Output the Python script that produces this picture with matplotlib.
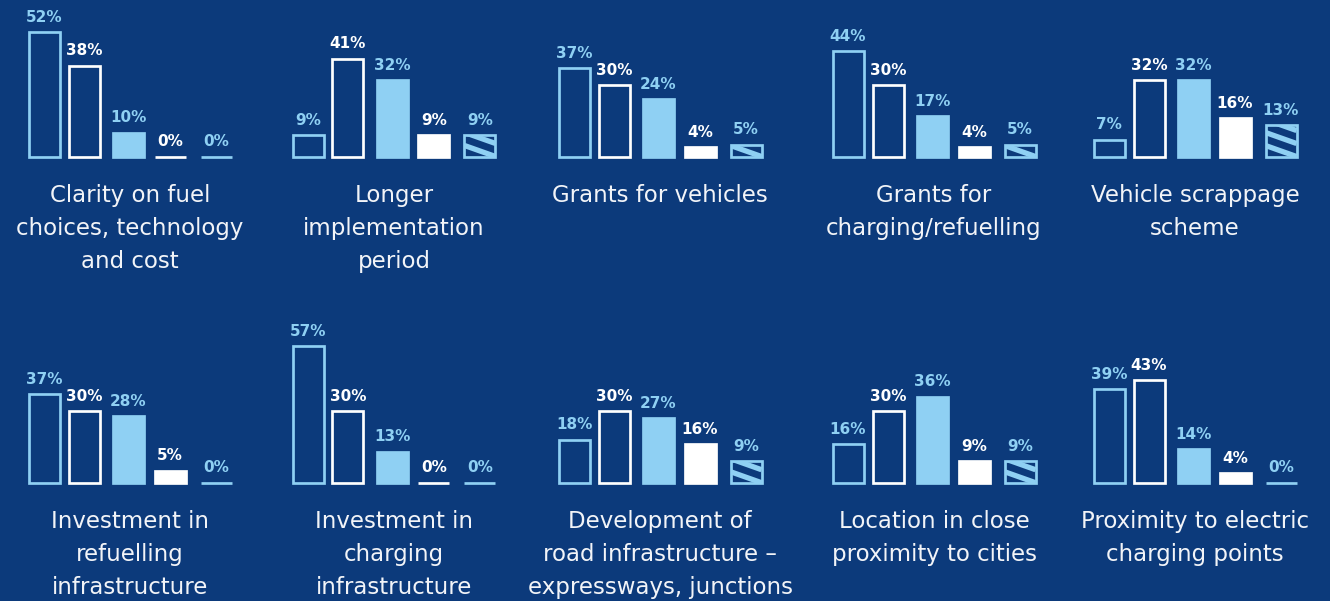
import matplotlib
matplotlib.use("Agg")
import matplotlib.pyplot as plt
import numpy as np

# ---- data -------------------------------------------------------------
titles = [
    ["Clarity on fuel", "choices, technology", "and cost"],
    ["Longer", "implementation", "period"],
    ["Grants for vehicles"],
    ["Grants for", "charging/refuelling"],
    ["Vehicle scrappage", "scheme"],
    ["Investment in", "refuelling", "infrastructure"],
    ["Investment in", "charging", "infrastructure"],
    ["Development of", "road infrastructure \u2013", "expressways, junctions"],
    ["Location in close", "proximity to cities"],
    ["Proximity to electric", "charging points"],
]
series_1 = [52, 9, 37, 44, 7, 37, 57, 18, 16, 39]
series_2 = [38, 41, 30, 30, 32, 30, 30, 30, 30, 43]
series_3 = [10, 32, 24, 17, 32, 28, 13, 27, 36, 14]
series_4 = [0, 9, 4, 4, 16, 5, 0, 16, 9, 4]
series_5 = [0, 9, 5, 5, 13, 0, 0, 9, 9, 0]

# ---- style ------------------------------------------------------------
BG = "#0C3A7B"
LIGHT = "#8FD0F3"
WHITE = "#FFFFFF"
FONT = "DejaVu Sans"

W, H = 1330, 601
fig = plt.figure(figsize=(W / 100, H / 100), dpi=100, facecolor=BG)

panel_cx = [130, 394, 660, 934, 1195]       # panel centres (px)
row_base = [156.5, 482.7]                   # bar baselines (px from top)
title_y0 = [201.7, 528.0]                   # first title line baseline
line_gap = 33.0
bar_off = [-86, -46, -1.5, 40, 86]          # bar centres relative to panel
bar_w = 31
px_per_pct = 2.39
ymax = 60
lw_pt = 1.95

# stripe pattern for the fifth series (px)
stripe_period = 13.0
stripe_drop = 11.0
stripe_lw = 3.8

styles = [
    dict(face=BG, edge=LIGHT, text=LIGHT, hatch=False),
    dict(face=BG, edge=WHITE, text=WHITE, hatch=False),
    dict(face=LIGHT, edge=LIGHT, text=LIGHT, hatch=False),
    dict(face=WHITE, edge=WHITE, text=WHITE, hatch=False),
    dict(face=BG, edge=LIGHT, text=LIGHT, hatch=True),
]

all_series = [series_1, series_2, series_3, series_4, series_5]

for p in range(len(titles)):
    row, col = divmod(p, 5)
    cx = panel_cx[col]
    base = row_base[row]
    ax_h = ymax * px_per_pct
    left = (cx - 130) / W
    bottom = 1 - base / H
    ax = fig.add_axes([left, bottom, 260 / W, ax_h / H])
    ax.set_xlim(-130, 130)
    ax.set_ylim(0, ymax)
    ax.set_axis_off()
    ax.patch.set_alpha(0)

    for s, vals in enumerate(all_series):
        v = vals[p]
        st = styles[s]
        bars = ax.bar(bar_off[s], v, width=bar_w, color=st["face"],
                      edgecolor=st["edge"], linewidth=lw_pt, zorder=3,
                      clip_on=False)
        rect = bars[0]
        if st["hatch"] and v > 0:
            x0, x1 = bar_off[s] - bar_w / 2, bar_off[s] + bar_w / 2
            top_px = v * px_per_pct
            k = 0
            while k * stripe_period < top_px + stripe_drop + stripe_period:
                y_right = k * stripe_period / px_per_pct
                y_left = (k * stripe_period + stripe_drop) / px_per_pct
                ln, = ax.plot([x0, x1], [y_left, y_right], color=LIGHT,
                              lw=stripe_lw, solid_capstyle="butt", zorder=3.5)
                ln.set_clip_path(rect)
                k += 1
        ax.annotate(f"{v}%", xy=(bar_off[s], v), xytext=(0, 7.4),
                    textcoords="offset points", ha="center", va="baseline",
                    color=st["text"], fontsize=11, fontweight="bold",
                    family=FONT, annotation_clip=False, zorder=4)

    for i, line in enumerate(titles[p]):
        y = title_y0[row] + i * line_gap
        fig.text(cx / W, 1 - y / H, line, ha="center", va="baseline",
                 color="#F2F4F8", fontsize=16.5, family=FONT)

fig.savefig("out.png", dpi=100, facecolor=BG)
